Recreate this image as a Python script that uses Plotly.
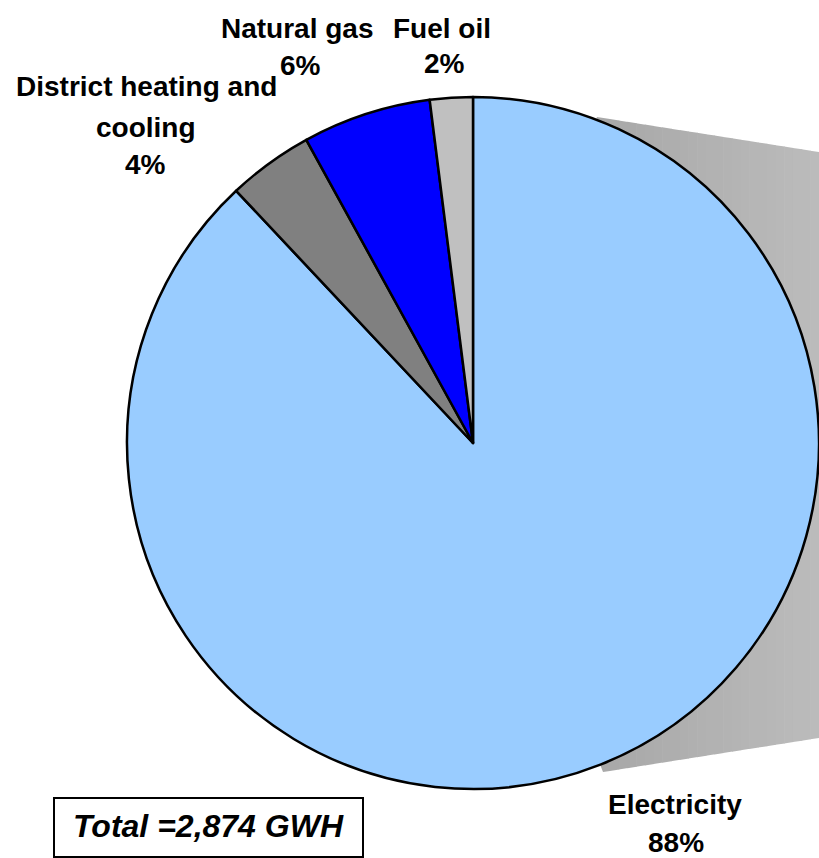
import plotly.graph_objects as go

# ---- data ----
categories = ["Electricity", "District heating and cooling", "Natural gas", "Fuel oil"]
shares_pct = [88, 4, 6, 2]
total_gwh = "2,874"

# ---- style / layout ----
W, H = 819, 858
colors = ["#99CCFF", "#808080", "#0000FF", "#C0C0C0"]
FONT = "Liberation Sans, Arial, Helvetica, sans-serif"
FS = 28


def px(x):
    return x / W


def py(y):
    return 1 - y / H


# label placement (pixel centres for each label line) per category
label_lines = {
    "Electricity": (["Electricity"], 675, [804]),
    "District heating and cooling": (["District heating and", "cooling"], 146, [86, 127]),
    "Natural gas": (["Natural gas"], 297, [28]),
    "Fuel oil": (["Fuel oil"], 442, [28]),
}
pct_pos = {
    "Electricity": (676, 842),
    "District heating and cooling": (145, 165),
    "Natural gas": (300, 65),
    "Fuel oil": (445, 63),
}

fig = go.Figure()
fig.add_trace(go.Pie(
    labels=categories,
    values=shares_pct,
    sort=False,
    direction="clockwise",
    rotation=0,
    marker=dict(colors=colors, line=dict(color="black", width=2.5)),
    textinfo="none",
    hoverinfo="skip",
    showlegend=False,
    domain=dict(x=[px(127), 1], y=[py(790), py(96)]),
))

annotations = []
for cat, pct in zip(categories, shares_pct):
    lines, cx, ys = label_lines[cat]
    for txt, yy in zip(lines, ys):
        annotations.append(dict(
            x=px(cx), y=py(yy), xref="paper", yref="paper",
            text=txt, showarrow=False, xanchor="center", yanchor="middle",
            font=dict(family=FONT, size=FS, color="black", weight="bold"),
        ))
    pxp, pyp = pct_pos[cat]
    annotations.append(dict(
        x=px(pxp), y=py(pyp), xref="paper", yref="paper",
        text=f"{pct}%", showarrow=False, xanchor="center", yanchor="middle",
        font=dict(family=FONT, size=FS, color="black", weight="bold"),
    ))

annotations.append(dict(
    x=px(209), y=py(826), xref="paper", yref="paper",
    text=f"Total ={total_gwh} GWH", showarrow=False, xanchor="center", yanchor="middle",
    font=dict(family=FONT, size=32, color="black", weight="bold", style="italic"),
))

# ---- decorative shadow (pie-of-pie connector area) ----
shapes = []


def top_y(x):
    return 117 + (152 - 117) * (x - 597) / (819 - 597)


def bot_y(x):
    return 772 + (738 - 772) * (x - 603) / (819 - 603)


x0 = 610
base = (f"M {px(474)},{py(443)} L {px(597)},{py(117)} L {px(x0)},{py(top_y(x0))} "
        f"L {px(x0)},{py(bot_y(x0))} L {px(603)},{py(772)} Z")
shapes.append(dict(type="path", path=base, xref="paper", yref="paper",
                   fillcolor="#A9A9A9", line=dict(width=0), layer="below"))
N = 24
for i in range(N):
    xa = x0 + (819 - x0) * i / N
    xb = x0 + (819 - x0) * (i + 1) / N + 0.6
    g = int(169 + (188 - 169) * (i + 0.5) / N)
    path = (f"M {px(xa)},{py(top_y(xa))} L {px(xb)},{py(top_y(xb))} "
            f"L {px(xb)},{py(bot_y(xb))} L {px(xa)},{py(bot_y(xa))} Z")
    shapes.append(dict(type="path", path=path, xref="paper", yref="paper",
                       fillcolor=f"rgb({g},{g},{g})", line=dict(width=0), layer="below"))

# total box
shapes.append(dict(type="rect", xref="paper", yref="paper",
                   x0=px(54), x1=px(363), y0=py(857), y1=py(798),
                   line=dict(color="black", width=2), fillcolor="rgba(0,0,0,0)"))

fig.update_layout(
    width=W, height=H,
    margin=dict(l=0, r=0, t=0, b=0),
    paper_bgcolor="white", plot_bgcolor="white",
    annotations=annotations,
    shapes=shapes,
)

fig.write_html(
    "out.html",
    config=dict(displayModeBar=False),
    post_script="document.body.style.margin='0';document.body.style.overflow='hidden';",
)
